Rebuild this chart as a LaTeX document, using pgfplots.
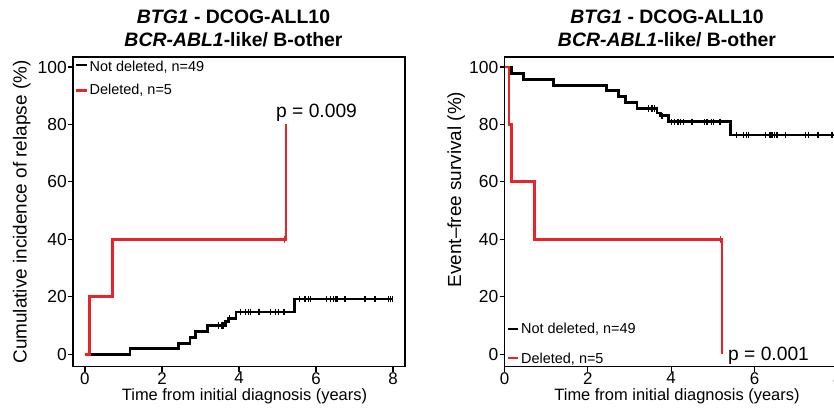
\documentclass[border=0pt]{standalone}
\usepackage{fontspec}
\setmainfont{Liberation Sans}
\usepackage{pgfplots}
\pgfplotsset{compat=1.18}
\definecolor{kmred}{HTML}{E8232A}
\newcommand{\fs}[1]{\fontsize{#1}{#1}\selectfont}

\pgfplotsset{
  km/.style={
    scale only axis, anchor=south west,
    height=309.5bp,
    ymin=-4.3, ymax=103.5,
    ytick={0,20,...,100}, xtick={0,2,...,8},
    tick align=outside, xtick pos=left, ytick pos=left,
    major tick length=5bp,
    axis line style={line width=1.5bp},
    tick style={black, line width=1.2bp},
    /pgf/number format/assume math mode=true,
    yticklabel style={font=\fs{17.5}, inner sep=1bp},
    xticklabel style={font=\fs{17}, inner sep=0.5bp},
  },
  kmstep/.style={const plot, line width=2.8bp, no marks},
  cens/.style={only marks, mark=|, mark size=3.2bp, mark options={line width=1.3bp}},
}

\begin{document}
\begin{tikzpicture}
\useasboundingbox (0,0) rectangle (834bp,408bp);

% cumulative incidence of relapse
\begin{axis}[km, at={(73bp,41.5bp)}, width=332bp, xmin=-0.31, xmax=8.31]
\addplot[kmstep, black] coordinates {
  (0,0) (1.17,1.9) (2.42,3.8) (2.73,5.9) (2.88,8.0) (3.18,10.0)
  (3.65,11.5) (3.73,12.4) (3.92,14.7) (5.44,19.2) (8.0,19.2)};
\addplot[kmstep, kmred] coordinates {(0,0) (0.11,20) (0.71,40) (5.22,80)};
\addplot[cens, black] coordinates {
  (3.47,10.0) (3.56,10.0) (3.60,10.0) (3.76,12.4)
  (4.03,14.7) (4.16,14.7) (4.24,14.7) (4.30,14.7) (4.50,14.7) (4.53,14.7)
  (4.81,14.7) (4.94,14.7) (5.02,14.7) (5.17,14.7)
  (5.57,19.2) (5.71,19.2) (5.80,19.2) (5.86,19.2) (6.28,19.2) (6.38,19.2)
  (6.45,19.2) (6.52,19.2) (6.55,19.2) (6.75,19.2) (7.25,19.2) (7.29,19.2)
  (7.53,19.2) (7.88,19.2) (7.94,19.2) (7.99,19.2)};
\addplot[cens, kmred] coordinates {(5.18,40)};
\end{axis}

% event-free survival
\begin{axis}[km, at={(504.5bp,41.5bp)}, width=346.7bp, xmin=0, xmax=8.32]
\addplot[kmstep, black] coordinates {
  (0,100) (0.16,97.8) (0.46,95.8) (1.18,93.7) (2.45,91.8) (2.74,89.7)
  (2.90,87.7) (3.18,85.6) (3.66,84.0) (3.74,83.0) (3.94,80.9) (5.42,76.3) (8.0,76.3)};
\addplot[kmstep, kmred] coordinates {(0,100) (0.11,80) (0.16,60) (0.72,40) (5.22,0)};
\addplot[cens, black] coordinates {
  (3.46,85.6) (3.54,85.6) (3.60,85.6) (3.78,83.0)
  (4.00,80.9) (4.08,80.9) (4.16,80.9) (4.22,80.9) (4.30,80.9) (4.48,80.9)
  (4.51,80.9) (4.80,80.9) (4.86,80.9) (4.96,80.9) (5.02,80.9) (5.17,80.9)
  (5.57,76.3) (5.74,76.3) (5.81,76.3) (5.85,76.3) (6.26,76.3) (6.37,76.3)
  (6.42,76.3) (6.48,76.3) (6.54,76.3) (6.74,76.3) (7.22,76.3) (7.30,76.3)
  (7.52,76.3) (7.86,76.3) (7.94,76.3) (7.99,76.3)};
\addplot[cens, kmred] coordinates {(5.18,40)};
\end{axis}

% titles
\node[anchor=base, font=\fs{19.5}\bfseries] at (233.5bp,384bp) {\textit{BTG1} - DCOG-ALL10};
\node[anchor=base, font=\fs{19.5}\bfseries] at (233.5bp,361bp) {\textit{BCR-ABL1}-like/ B-other};
\node[anchor=base, font=\fs{19.5}\bfseries] at (667bp,384bp) {\textit{BTG1} - DCOG-ALL10};
\node[anchor=base, font=\fs{19.5}\bfseries] at (667bp,361bp) {\textit{BCR-ABL1}-like/ B-other};

% axis labels
\node[anchor=base, inner sep=1bp, font=\fs{16.5}] at (244.5bp,8bp) {Time from initial diagnosis (years)};
\node[anchor=base, inner sep=1bp, font=\fs{16.5}] at (677bp,8bp) {Time from initial diagnosis (years)};
\node[anchor=base, rotate=90, font=\fs{19}] at (26.5bp,196bp) {Cumulative incidence of relapse (\%)};
\node[anchor=base, rotate=90, font=\fs{19}] at (461bp,218.5bp) {Event--free survival (\%)};

% legends
\draw[black, line width=2.8bp] (76bp,343bp) -- (87bp,343bp);
\draw[kmred, line width=2.8bp] (76bp,317.5bp) -- (87bp,317.5bp);
\node[anchor=base west, inner sep=1bp, font=\fs{14.5}] at (88.5bp,336bp) {Not deleted, n=49};
\node[anchor=base west, inner sep=1bp, font=\fs{14.5}] at (88.5bp,313bp) {Deleted, n=5};
\draw[black, line width=2.8bp] (508bp,79bp) -- (518bp,79bp);
\draw[kmred, line width=2.8bp] (508bp,50bp) -- (518bp,50bp);
\node[anchor=base west, inner sep=1bp, font=\fs{14.5}] at (520bp,74.7bp) {Not deleted, n=49};
\node[anchor=base west, inner sep=1bp, font=\fs{14.5}] at (520bp,44.7bp) {Deleted, n=5};

% p-values
\node[anchor=base west, inner sep=0.5bp, font=\fs{19.3}] at (275.5bp,290.7bp) {p = 0.009};
\node[anchor=base west, inner sep=0.5bp, font=\fs{19.3}] at (727.5bp,47.3bp) {p = 0.001};
\end{tikzpicture}
\end{document}
